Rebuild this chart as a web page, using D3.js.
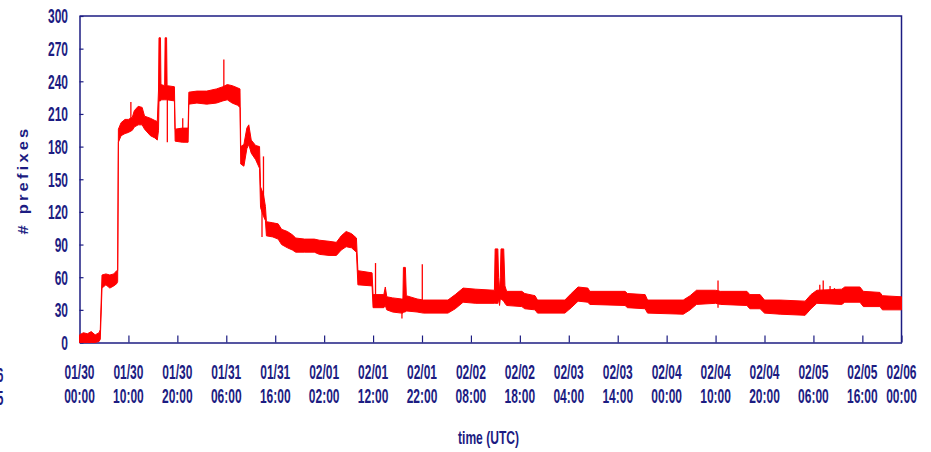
<!DOCTYPE html>
<html>
<head>
<meta charset="utf-8">
<script src="https://cdn.jsdelivr.net/npm/d3@7"></script>
<style>
  html, body { margin: 0; padding: 0; background: #ffffff; }
  svg { display: block; }
  text { font-family: "Liberation Sans", Arial, sans-serif; font-weight: bold; fill: #1c1c82; }
</style>
</head>
<body>
<svg id="chart" width="931" height="452"></svg>
<script>
// Announced prefixes over one week (UTC). Band = min/max envelope per sample.
const start = "2003/01/30 00:00";

const hours = [
  0, 0.8, 1.6, 2.4, 3.2, 4.0, 4.25, 4.6, 5.4, 6.2, 7.0, 7.6, 7.8,
  7.95, 8.5, 9.3, 10.0, 10.8, 11.2, 12.0, 12.8, 13.3, 14.5, 15.4, 15.9,
  16.15, 16.25, 16.55, 16.65, 17.4, 17.5, 17.8, 17.9, 19.4, 19.55, 21.0, 22.2,
  22.35, 24.0, 26.0, 28.0, 29.3, 30.2, 31.2, 32.3, 32.8,
  32.95, 33.6, 34.2, 34.6, 35.1, 36.0, 36.8, 37.0, 37.6, 38.0, 38.2,
  39.5, 40.6, 41.3, 42.5, 43.5, 44.2, 46.0, 48.0, 49.0, 51.0, 52.5,
  53.5, 54.5, 55.6, 56.6, 56.9, 59.8, 60.0, 62.2, 62.5, 62.8, 64.0, 65.8,
  66.1, 66.2, 66.6, 66.8, 69.0, 70.3, 75.3, 76.8, 78.4, 81.0, 84.8,
  84.95, 85.5, 85.65, 85.85, 86.0, 86.15, 86.7, 86.95, 87.3,
  90.4, 91.0, 93.1, 93.6, 99.2, 100.5, 101.9, 103.9, 104.3, 111.5, 112.0,
  115.6, 116.1, 123.4, 124.8, 126.1, 130.0, 131.0, 136.4, 137.0, 139.1,
  140.0, 143.2, 148.3, 149.5, 150.7, 155.8, 156.4, 159.5, 160.2, 163.6,
  164.1, 168.0
];
const lowValues = [
  0, 0, 0, 0, 0, 1, 3, 50, 53, 50, 52, 54, 56,
  184, 190, 192, 193, 195, 198, 200, 200, 196, 190, 188, 186,
  195, 222, 222, 223, 223, 223, 223, 223, 222, 185, 184, 184,
  219, 220, 219, 220, 222, 223, 220, 218, 216,
  164, 162, 178, 182, 174, 168, 160, 124, 116, 112, 98,
  97, 95, 90, 87, 85, 83, 83, 83, 81, 80, 80,
  85, 88, 87, 83, 53, 52, 32, 32, 34, 30, 28, 27,
  27, 28, 28, 29, 28, 27, 27, 31, 37, 36, 36,
  36, 36, 40, 34, 40, 40, 38, 36, 34,
  33, 31, 30, 27, 27, 32, 38, 37, 35, 34, 32,
  31, 27, 26, 30, 35, 36, 35, 34, 31, 31,
  27, 26, 25, 31, 36, 35, 37, 37, 33, 33,
  30, 30
];
const highValues = [
  7, 9, 8, 10, 7, 9, 12, 62, 63, 62, 63, 66, 66,
  196, 202, 205, 205, 207, 213, 217, 216, 208, 206, 204, 203,
  232, 280, 280, 237, 236, 280, 280, 236, 235, 196, 197, 197,
  230, 231, 231, 233, 235, 237, 236, 234, 233,
  180, 182, 197, 200, 186, 181, 180, 143, 136, 125, 111,
  110, 109, 104, 102, 99, 96, 95, 95, 94, 93, 92,
  98, 102, 100, 96, 66, 64, 44, 44, 51, 42, 41, 40,
  40, 69, 69, 43, 40, 39, 39, 44, 50, 49, 48,
  86, 86, 60, 48, 60, 86, 86, 52, 47,
  47, 45, 43, 39, 39, 45, 51, 50, 47, 47, 45,
  44, 39, 39, 43, 48, 48, 47, 47, 44, 44,
  39, 39, 38, 44, 48, 49, 51, 51, 47, 46,
  43, 42
];

// Short single-sample excursions
const spikeHours = [10.5, 17.95, 21.1, 29.5, 37.3, 37.6, 60.5, 65.9, 70.06, 130.5, 151.3, 152.0, 153.4, 154.3];
const spikeLow   = [200, 184, 190, 228, 97, 120, 42, 22, 30, 32, 44, 44, 44, 44];
const spikeHigh  = [221, 230, 206, 260, 135, 171, 73, 32, 72, 57, 53, 57, 52, 50];

const xTickLabels = [
  "01/30 00:00", "01/30 10:00", "01/30 20:00", "01/31 06:00", "01/31 16:00",
  "02/01 02:00", "02/01 12:00", "02/01 22:00", "02/02 08:00", "02/02 18:00",
  "02/03 04:00", "02/03 14:00", "02/04 00:00", "02/04 10:00", "02/04 20:00",
  "02/05 06:00", "02/05 16:00", "02/06 00:00"
];
const yTicks = [0, 30, 60, 90, 120, 150, 180, 210, 240, 270, 300];

const yTitle = "# prefixes";
const xTitle = "time (UTC)";

const navy = "#1c1c82";
const red = "#ff0000";
const squeeze = 0.6;

const parse = d3.utcParse("%Y/%m/%d %H:%M");
const t0 = parse(start);
const hourMs = 3600 * 1000;
const toDate = h => new Date(t0.getTime() + h * hourMs);
const tickDates = xTickLabels.map(s => parse("2003/" + s));

const svg = d3.select("#chart");
const plotL = 79.5, plotR = 901.5, plotT = 16, plotB = 342.5;

const x = d3.scaleUtc().domain([t0, toDate(168)]).range([plotL, plotR]);
const y = d3.scaleLinear().domain([0, 300]).range([plotB, plotT]);

// Frame (top and right edges)
svg.append("path")
  .attr("d", `M${plotL},${plotT}H${plotR}V${plotB}`)
  .attr("fill", "none").attr("stroke", navy).attr("stroke-width", 1.5);

// X axis with inward ticks
const xAxis = svg.append("g").attr("transform", `translate(0,${plotB})`)
  .call(d3.axisBottom(x).tickValues(tickDates).tickSizeInner(-7).tickSizeOuter(0).tickFormat(""));
xAxis.select(".domain").attr("stroke", navy).attr("stroke-width", 1.5);
xAxis.selectAll(".tick line").attr("stroke", navy).attr("stroke-width", 1.2);

// Y axis with inward ticks
const yAxis = svg.append("g").attr("transform", `translate(${plotL},0)`)
  .call(d3.axisLeft(y).tickValues(yTicks).tickSizeInner(-4).tickSizeOuter(0).tickFormat(""));
yAxis.select(".domain").attr("stroke", navy).attr("stroke-width", 1.5);
yAxis.selectAll(".tick line").attr("stroke", navy).attr("stroke-width", 1.2);

// Tick labels (narrow bold face)
svg.append("g").selectAll("text").data(yTicks).join("text")
  .attr("transform", d => `translate(68,${y(d) + 7.3}) scale(${squeeze},1)`)
  .attr("text-anchor", "end").attr("font-size", 20)
  .text(d => d);

const xl = svg.append("g").selectAll("g").data(xTickLabels).join("g")
  .attr("transform", (d, i) => `translate(${x(tickDates[i])},0) scale(${squeeze},1)`);
xl.append("text").attr("y", 379.5).attr("text-anchor", "middle").attr("font-size", 20)
  .text(d => d.split(" ")[0]);
xl.append("text").attr("y", 403.5).attr("text-anchor", "middle").attr("font-size", 20)
  .text(d => d.split(" ")[1]);

// Axis titles
svg.append("text")
  .attr("transform", "translate(28,180) scale(0.85,1) rotate(-90)")
  .attr("text-anchor", "middle").attr("font-size", 16.5).attr("letter-spacing", 3.2)
  .text(yTitle);
svg.append("text")
  .attr("transform", "translate(488.5,444) scale(0.69,1)")
  .attr("text-anchor", "middle").attr("font-size", 17.5)
  .text(xTitle);

// Glyphs partly off the left edge
const edge = svg.append("g").attr("transform", `translate(3.5,0) scale(${squeeze},1)`);
edge.append("text").attr("y", 382).attr("text-anchor", "end").attr("font-size", 20).text("06");
edge.append("text").attr("y", 405).attr("text-anchor", "end").attr("font-size", 20).text("05");

// Series envelope
const series = hours.map((h, i) => ({ t: toDate(h), lo: lowValues[i], hi: highValues[i] }));
const area = d3.area().x(d => x(d.t)).y0(d => y(d.lo)).y1(d => y(d.hi));
svg.append("path").datum(series)
  .attr("d", area)
  .attr("fill", red).attr("stroke", red).attr("stroke-width", 1).attr("stroke-linejoin", "round");

// Spikes
svg.append("g").selectAll("line").data(spikeHours).join("line")
  .attr("x1", d => x(toDate(d))).attr("x2", d => x(toDate(d)))
  .attr("y1", (d, i) => y(spikeLow[i])).attr("y2", (d, i) => y(spikeHigh[i]))
  .attr("stroke", red).attr("stroke-width", 1.3);
</script>
</body>
</html>
